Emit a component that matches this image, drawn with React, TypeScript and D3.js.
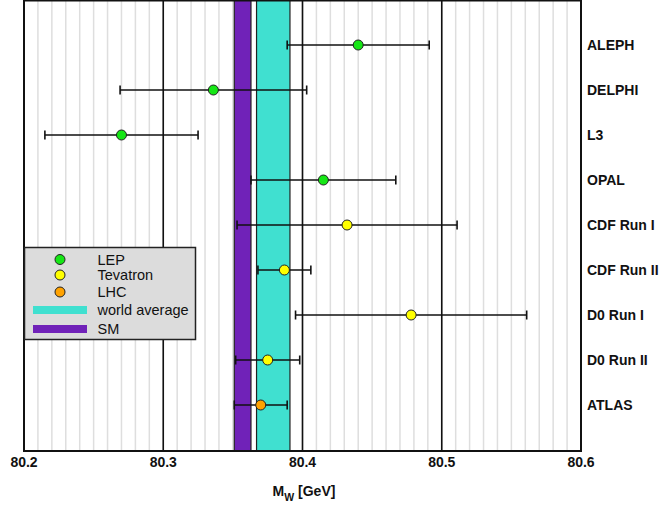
import React from "react";
import * as d3 from "d3";

// W boson mass measurements (GeV)
const experiments = ["ALEPH", "DELPHI", "L3", "OPAL", "CDF Run I", "CDF Run II", "D0 Run I", "D0 Run II", "ATLAS"];
const massValues = [80.440, 80.336, 80.270, 80.415, 80.432, 80.387, 80.478, 80.375, 80.370];
const massErrors = [0.051, 0.067, 0.055, 0.052, 0.079, 0.019, 0.083, 0.023, 0.019];
const colliders = ["LEP", "LEP", "LEP", "LEP", "Tevatron", "Tevatron", "Tevatron", "Tevatron", "LHC"];

const worldAverage = { value: 80.379, error: 0.012 };
const smPrediction = { value: 80.357, error: 0.006 };

const xTicks = [80.2, 80.3, 80.4, 80.5, 80.6];
const legendLabels = ["LEP", "Tevatron", "LHC", "world average", "SM"];

const colliderColor: Record<string, string> = {
  LEP: "#16e616",
  Tevatron: "#ffff00",
  LHC: "#ffa200",
};
const avgColor = "#40e0d0";
const smColor = "#7022b8";

const W = 662;
const H = 509;
const left = 24;
const right = 581;
const top = 0;
const bottom = 451;

export default function App() {
  const x = d3.scaleLinear().domain([80.2, 80.6]).range([left, right]);
  const y = d3.scaleLinear().domain([0, 10]).range([top, top + 450]);

  const minor = d3.range(80.2, 80.6001, 0.01).map((v) => +v.toFixed(2));
  const font = "'Liberation Sans', Arial, Helvetica, sans-serif";

  const legendItems = legendLabels.map((label) => {
    if (label === "world average") return { label, kind: "bar", color: avgColor };
    if (label === "SM") return { label, kind: "bar", color: smColor };
    return { label, kind: "dot", color: colliderColor[label] };
  });
  const legendYs = [259.5, 275, 292, 310, 329];

  return (
    <svg
      width={W}
      height={H}
      style={{ position: "absolute", left: 0, top: 0, background: "#fff" }}
      fontFamily={font}
    >
      <rect x={left} y={top} width={right - left} height={bottom - top} fill="#fff" />
      {/* minor grid every 10 MeV */}
      {minor.map((v) => (
        <line key={"m" + v} x1={x(v)} x2={x(v)} y1={top} y2={bottom} stroke="#dedede" strokeWidth={1.5} />
      ))}
      {/* SM prediction band */}
      <rect
        x={x(smPrediction.value - smPrediction.error)}
        width={x(smPrediction.value + smPrediction.error) - x(smPrediction.value - smPrediction.error)}
        y={top}
        height={bottom - top}
        fill={smColor}
        stroke="#222"
        strokeWidth={1.2}
      />
      {/* world average band */}
      <rect
        x={x(worldAverage.value - worldAverage.error)}
        width={x(worldAverage.value + worldAverage.error) - x(worldAverage.value - worldAverage.error)}
        y={top}
        height={bottom - top}
        fill={avgColor}
        stroke="#222"
        strokeWidth={1.2}
      />
      {/* major grid */}
      {xTicks.slice(1, -1).map((v) => (
        <line key={"M" + v} x1={x(v)} x2={x(v)} y1={top} y2={bottom} stroke="#111" strokeWidth={1.6} />
      ))}
      {/* measurements */}
      {experiments.map((name, i) => {
        const cy = y(i + 1);
        const lo = x(massValues[i] - massErrors[i]);
        const hi = x(massValues[i] + massErrors[i]);
        return (
          <g key={name}>
            <line x1={lo} x2={hi} y1={cy} y2={cy} stroke="#111" strokeWidth={1.6} />
            <line x1={lo} x2={lo} y1={cy - 4.5} y2={cy + 4.5} stroke="#111" strokeWidth={1.6} />
            <line x1={hi} x2={hi} y1={cy - 4.5} y2={cy + 4.5} stroke="#111" strokeWidth={1.6} />
            <circle cx={x(massValues[i])} cy={cy} r={5} fill={colliderColor[colliders[i]]} stroke="#222" strokeWidth={1} />
            <text x={587} y={cy} dy="0.36em" fontSize={14} fontWeight="bold" fill="#111">
              {name}
            </text>
          </g>
        );
      })}
      {/* frame */}
      <rect x={left} y={top + 0.5} width={right - left} height={bottom - top - 0.5} fill="none" stroke="#111" strokeWidth={2} />
      {/* x tick labels */}
      {xTicks.map((v) => (
        <text key={"t" + v} x={x(v)} y={467} textAnchor="middle" fontSize={14} fontWeight="bold" fill="#111">
          {v.toFixed(1)}
        </text>
      ))}
      {/* axis title */}
      <text x={304} y={496} textAnchor="middle" fontSize={14} fontWeight="bold" fill="#111">
        <tspan>M</tspan>
        <tspan fontSize={10.5} dy={5}>W</tspan>
        <tspan dy={-5}> [GeV]</tspan>
      </text>
      {/* legend */}
      <rect x={24.5} y={247.5} width={171} height={92} fill="#dcdcdc" stroke="#222" strokeWidth={1.5} />
      {legendItems.map((item, i) => (
        <g key={item.label}>
          {item.kind === "dot" ? (
            <circle cx={60} cy={legendYs[i]} r={5} fill={item.color} stroke="#222" strokeWidth={1} />
          ) : (
            <rect x={33} y={legendYs[i] - 4} width={54} height={8} fill={item.color} />
          )}
          <text x={97.5} y={legendYs[i]} dy="0.36em" fontSize={14.5} fill="#111">
            {item.label}
          </text>
        </g>
      ))}
    </svg>
  );
}
